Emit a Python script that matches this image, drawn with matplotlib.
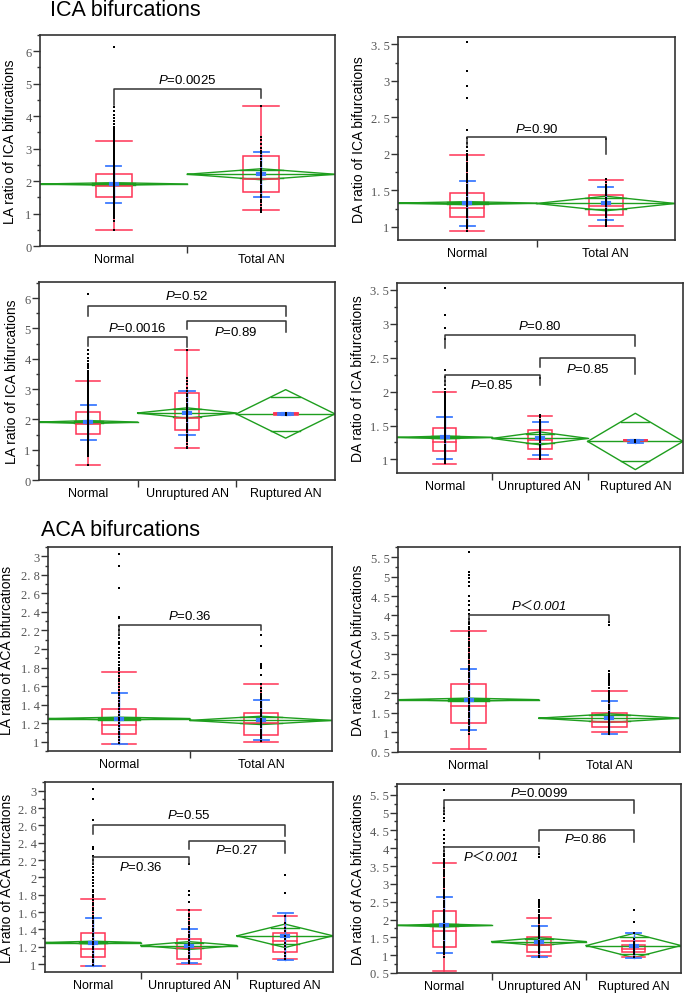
import numpy as np
import matplotlib.pyplot as plt
from matplotlib.patches import Rectangle
from matplotlib.ticker import MultipleLocator, FixedLocator

plt.rcParams['font.family'] = ['Liberation Sans', 'DejaVu Sans']
plt.rcParams['mathtext.fontset'] = 'custom'
plt.rcParams['mathtext.rm'] = 'Liberation Sans'
plt.rcParams['mathtext.it'] = 'Liberation Sans:italic'

W, H = 685, 995

two_groups = ['Normal', 'Total AN']
three_groups = ['Normal', 'Unruptured AN', 'Ruptured AN']

# ---------------- LA ratio, ICA bifurcations ----------------
la_ica_normal = [6.14, 4.28, 4.16, 4.04, 3.93, 3.84, 3.75, 3.68, 3.61, 3.55, 3.50, 3.46,
                 3.41, 3.37, 3.32, 3.27, 3.22, 3.17, 3.12, 3.07, 3.01, 2.96, 2.91, 2.86,
                 2.80, 2.75, 2.70, 2.65, 2.60, 2.55, 2.50, 2.45, 2.41, 2.36, 2.31, 2.27,
                 2.22, 2.18, 2.13, 2.09, 2.04, 2.00, 1.96, 1.92, 1.88, 1.84, 1.80, 1.76,
                 1.72, 1.68, 1.63, 1.59, 1.55, 1.50, 1.46, 1.41, 1.37, 1.32, 1.28, 1.23,
                 1.19, 1.14, 1.10, 1.05, 1.01, 0.96, 0.91, 0.85, 0.78, 0.50]
la_ica_unrup = [4.30, 3.36, 3.27, 3.15, 3.02, 2.93, 2.85, 2.76, 2.68, 2.60, 2.52, 2.45,
                2.38, 2.31, 2.25, 2.19, 2.12, 2.06, 2.00, 1.93, 1.86, 1.79, 1.72, 1.65,
                1.58, 1.50, 1.42, 1.35, 1.27, 1.18, 1.10, 1.05]
la_ica_rup = [2.16, 2.20]
# box: whisker low, Q1, median, Q3, whisker high
la_ica_box_normal = [0.50, 1.52, 1.84, 2.23, 3.25]
la_ica_box_total = [1.10, 1.66, 2.06, 2.76, 4.30]
la_ica_box_unrup = [1.07, 1.64, 2.05, 2.88, 4.30]
la_ica_box_rup = [2.16, 2.17, 2.18, 2.20, 2.20]
# mean and mean +- SD
la_ica_mean = {'normal': 1.91, 'total': 2.21, 'unrup': 2.21, 'rup': 2.18}
la_ica_sd_normal = [1.31, 2.47]
la_ica_sd_total = [1.50, 2.91]
la_ica_sd_unrup = [1.48, 2.94]
la_ica_sd_rup = [2.15, 2.21]

# ---------------- DA ratio, ICA bifurcations ----------------
da_ica_normal = [3.53, 3.13, 2.93, 2.77, 2.32, 2.22, 2.15, 2.09, 2.04, 2.00, 1.97, 1.94,
                 1.91, 1.88, 1.85, 1.82, 1.79, 1.76, 1.73, 1.70, 1.67, 1.64, 1.61, 1.58,
                 1.55, 1.52, 1.49, 1.46, 1.43, 1.40, 1.37, 1.34, 1.31, 1.28, 1.25, 1.22,
                 1.19, 1.16, 1.13, 1.10, 1.07, 1.04, 1.01, 0.98, 0.95]
da_ica_unrup = [2.20, 1.65, 1.62, 1.58, 1.55, 1.52, 1.49, 1.46, 1.43, 1.40, 1.37, 1.34,
                1.31, 1.28, 1.25, 1.22, 1.19, 1.16, 1.13, 1.10, 1.07, 1.04, 1.01]
da_ica_rup = [1.25, 1.29]
da_ica_box_normal = [0.94, 1.13, 1.26, 1.47, 1.99]
da_ica_box_total = [1.01, 1.16, 1.28, 1.44, 1.64]
da_ica_box_unrup = [1.01, 1.15, 1.28, 1.43, 1.64]
da_ica_box_rup = [1.27, 1.275, 1.28, 1.29, 1.29]
da_ica_mean = {'normal': 1.325, 'total': 1.32, 'unrup': 1.31, 'rup': 1.265}
da_ica_sd_normal = [1.01, 1.63]
da_ica_sd_total = [1.09, 1.55]
da_ica_sd_unrup = [1.07, 1.55]
da_ica_sd_rup = [1.245, 1.28]

# ---------------- LA ratio, ACA bifurcations ----------------
la_aca_normal = [3.02, 2.90, 2.66, 2.35, 2.33, 2.25, 2.20, 2.15, 2.12, 2.08, 2.05, 2.01,
                 1.97, 1.94, 1.90, 1.86, 1.83, 1.80, 1.77, 1.74, 1.71, 1.68, 1.65, 1.62,
                 1.59, 1.56, 1.53, 1.50, 1.47, 1.44, 1.41, 1.38, 1.35, 1.32, 1.29, 1.26,
                 1.23, 1.20, 1.17, 1.14, 1.11, 1.08, 1.05, 1.02, 0.99]
la_aca_unrup = [2.15, 1.84, 1.80, 1.72, 1.62, 1.58, 1.55, 1.52, 1.49, 1.46, 1.43, 1.40,
                1.37, 1.34, 1.31, 1.28, 1.25, 1.22, 1.19, 1.16, 1.13, 1.10, 1.07, 1.04, 1.01]
la_aca_rup = [2.03, 1.82, 1.55, 1.48, 1.42, 1.38, 1.33, 1.29, 1.25, 1.21, 1.17, 1.13,
              1.09, 1.06]
la_aca_box_normal = [0.98, 1.083, 1.18, 1.355, 1.757]
la_aca_box_total = [1.00, 1.076, 1.20, 1.306, 1.627]
la_aca_box_unrup = [1.00, 1.06, 1.185, 1.29, 1.62]
la_aca_box_rup = [1.06, 1.146, 1.27, 1.36, 1.55]
la_aca_mean = {'normal': 1.25, 'total': 1.23, 'unrup': 1.215, 'rup': 1.327}
la_aca_sd_normal = [0.98, 1.53]
la_aca_sd_total = [1.02, 1.447]
la_aca_sd_unrup = [1.015, 1.41]
la_aca_sd_rup = [1.054, 1.59]

# ---------------- DA ratio, ACA bifurcations ----------------
da_aca_normal = [5.62, 5.13, 5.04, 4.96, 4.85, 4.75, 4.51, 4.38, 4.27, 4.15, 4.04, 3.92,
                 3.84, 3.77, 3.71, 3.65, 3.58, 3.52, 3.46, 3.40, 3.33, 3.27, 3.21, 3.15,
                 3.09, 3.02, 2.96, 2.90, 2.84, 2.78, 2.71, 2.65, 2.59, 2.53, 2.47, 2.41,
                 2.35, 2.28, 2.22, 2.16, 2.10, 2.04, 1.98, 1.92, 1.86, 1.80, 1.74, 1.68,
                 1.62, 1.56, 1.50, 1.44, 1.38, 1.32, 1.26, 1.20, 1.14, 1.08, 1.02, 0.96]
da_aca_unrup = [3.83, 3.75, 2.56, 2.50, 2.45, 2.40, 2.34, 2.27, 2.20, 2.13, 2.07, 2.01,
                1.95, 1.89, 1.83, 1.77, 1.71, 1.65, 1.59, 1.53, 1.47, 1.41, 1.35, 1.29,
                1.23, 1.17, 1.11, 1.05, 0.99, 0.95]
da_aca_rup = [2.28, 1.93, 1.62, 1.45, 1.38, 1.32, 1.26, 1.20, 1.14, 1.08, 1.02, 0.96]
da_aca_box_normal = [0.57, 1.24, 1.67, 2.23, 3.59]
da_aca_box_total = [1.00, 1.12, 1.26, 1.50, 2.05]
da_aca_box_unrup = [0.99, 1.10, 1.29, 1.50, 2.05]
da_aca_box_rup = [0.94, 1.08, 1.17, 1.28, 1.41]
da_aca_mean = {'normal': 1.835, 'total': 1.36, 'unrup': 1.38, 'rup': 1.27}
da_aca_sd_normal = [1.05, 2.62]
da_aca_sd_total = [0.94, 1.81]
da_aca_sd_unrup = [0.94, 1.83]
da_aca_sd_rup = [0.92, 1.63]

# means diamond half heights (95% CI) per panel
ci_p1 = [0.04, 0.17]
ci_p2 = [0.02, 0.10]
ci_p3 = [0.05, 0.17, 0.80]
ci_p4 = [0.02, 0.095, 0.415]
ci_p5 = [0.015, 0.045]
ci_p6 = [0.04, 0.11]
ci_p7 = [0.015, 0.045, 0.135]
ci_p8 = [0.04, 0.11, 0.34]

# comparison brackets: group a, group b, bar y, leg a end, leg b end, p value, text y
br_p1 = [(0, 1, 4.84, 4.35, 4.56, '=0.0025', 5.13)]
br_p2 = [(0, 1, 2.23, 2.12, 2.00, '=0.90', 2.35)]
br_p3 = [(0, 2, 5.75, 5.42, 5.42, '=0.52', 6.08),
         (0, 1, 4.73, 4.41, 4.38, '=0.0016', 5.04),
         (1, 2, 5.24, 4.98, 4.87, '=0.89', 4.90)]
br_p4 = [(0, 2, 2.83, 2.64, 2.67, '=0.80', 2.98),
         (1, 2, 2.49, 2.36, 2.26, '=0.85', 2.34),
         (0, 1, 2.24, 2.09, 2.09, '=0.85', 2.10)]
br_p5 = [(0, 1, 2.26, 2.15, 2.20, '=0.36', 2.36)]
br_p6 = [(0, 1, 4.02, 3.85, 3.86, '<0.001', 4.25)]
br_p7 = [(0, 2, 2.61, 2.50, 2.48, '=0.55', 2.72),
         (1, 2, 2.42, 2.33, 2.28, '=0.27', 2.32),
         (0, 1, 2.23, 2.16, 2.16, '=0.36', 2.13)]
br_p8 = [(0, 2, 5.36, 5.00, 5.00, '=0.0099', 5.56),
         (1, 2, 4.52, 4.20, 4.16, '=0.86', 4.28),
         (0, 1, 4.02, 3.90, 3.88, '<0.001', 3.77)]

RED = '#ff3355'
GREEN = '#1e9e1e'
BLUE = '#3d7bff'
DARK = '#333333'


def tick_text(v):
    s = f'{abs(v) + 0.0 if abs(v) < 1e-9 else v:.1f}'.rstrip('0').rstrip('.')
    return s.replace('.', '. ')


def make_ax(fig, l, t, r, b):
    return fig.add_axes([l / W, 1 - b / H, (r - l) / W, (b - t) / H])


def draw_panel(ax, names, means, cis, boxes, sds, points, brackets,
               ylim, major, minor, ylabel, label_px):
    n = len(names)
    pos = ax.get_position()
    grp_px = pos.width * W / n
    cap = 7.5 / grp_px
    bw = 0.122
    for i in range(n):
        x0, xc, x1 = i, i + 0.5, i + 1
        m, c = means[i], cis[i]
        # means diamond
        ax.plot([x0, xc, x1, xc, x0], [m, m + c, m, m - c, m], color=GREEN, lw=1.0)
        ax.plot([x0, x1], [m, m], color=GREEN, lw=1.0)
        h = c / np.sqrt(2)
        d = 0.5 * (1 - 1 / np.sqrt(2))
        for y in (m + h, m - h):
            ax.plot([xc - d, xc + d], [y, y], color=GREEN, lw=1.0)
        # quantile box
        wlo, q1, med, q3, whi = boxes[i]
        ax.add_patch(Rectangle((xc - bw, q1), 2 * bw, q3 - q1, fill=False,
                               ec=RED, lw=1.1))
        ax.plot([xc - bw, xc + bw], [med, med], color=RED, lw=1.1)
        ax.plot([xc, xc], [wlo, whi], color=RED, lw=1.1)
        for y in (wlo, whi):
            ax.plot([xc - bw, xc + bw], [y, y], color=RED, lw=1.1)
        # mean +- sd
        slo, shi = sds[i]
        ax.plot([xc, xc], [slo, shi], color=BLUE, lw=1.0)
        for y in (slo, shi):
            ax.plot([xc - cap, xc + cap], [y, y], color=BLUE, lw=1.3)
        ax.plot([xc - cap * 0.4, xc + cap * 0.4], [m, m], color=BLUE, lw=3)
        # raw points
        ax.plot([xc] * len(points[i]), points[i], 's', ms=1.8, mew=0, color='black')

    for a, b, ybar, la, lb, ptxt, ty in brackets:
        xa, xb = a + 0.5, b + 0.5
        ax.plot([xa, xa, xb, xb], [la, ybar, ybar, lb], color=DARK, lw=1.1)
        if ptxt.startswith('<'):
            ax.text((xa + xb) / 2, ty, 'P\uff1c' + ptxt[1:], ha='center', va='center',
                    fontsize=9.5, fontstyle='italic',
                    family=['Liberation Sans', 'Noto Sans CJK SC'])
        else:
            ax.text((xa + xb) / 2, ty, r'$\mathit{P}$' + ptxt, ha='center',
                    va='center', fontsize=9.5)

    ax.set_xlim(0, n)
    ax.set_ylim(*ylim)
    ax.set_xticks([i + 0.5 for i in range(n)])
    ax.set_xticklabels(names, fontsize=9)
    ax.xaxis.set_minor_locator(FixedLocator(list(range(1, n))))
    ax.tick_params(axis='x', which='major', length=0, pad=5)
    ax.tick_params(axis='x', which='minor', length=5, width=1, color=DARK)

    ticks = np.arange(np.ceil(ylim[0] / major - 1e-6) * major, ylim[1] + 1e-9, major)
    ax.set_yticks(ticks)
    ax.set_yticklabels([tick_text(v) for v in ticks], family='Liberation Serif',
                       fontsize=9, color='#555555')
    ax.yaxis.set_minor_locator(MultipleLocator(minor))
    ax.tick_params(axis='y', which='major', length=5, width=1, color=DARK, pad=1)
    ax.tick_params(axis='y', which='minor', length=2.5, width=1, color=DARK)

    for sp in ax.spines.values():
        sp.set_color(DARK)
        sp.set_linewidth(1.2)
    ax.set_ylabel(ylabel, fontsize=10)
    ax.yaxis.set_label_coords((label_px - pos.x0 * W) / (pos.width * W), 0.5)


fig = plt.figure(figsize=(W / 100, H / 100), dpi=100)

fig.text(50 / W, 1 - 11 / H, 'ICA bifurcations', fontsize=15.5, ha='left', va='center')
fig.text(41 / W, 1 - 531 / H, 'ACA bifurcations', fontsize=15.5, ha='left', va='center')

ax1 = make_ax(fig, 40, 36, 335, 247)
draw_panel(ax1, two_groups, [la_ica_mean['normal'], la_ica_mean['total']], ci_p1,
           [la_ica_box_normal, la_ica_box_total], [la_ica_sd_normal, la_ica_sd_total],
           [la_ica_normal, la_ica_unrup + la_ica_rup], br_p1,
           (0, 6.5), 1, 0.5, 'LA ratio of ICA bifurcations', 17)

ax2 = make_ax(fig, 398, 38, 675, 241)
draw_panel(ax2, two_groups, [da_ica_mean['normal'], da_ica_mean['total']], ci_p2,
           [da_ica_box_normal, da_ica_box_total], [da_ica_sd_normal, da_ica_sd_total],
           [da_ica_normal, da_ica_unrup + da_ica_rup], br_p2,
           (0.82, 3.6), 0.5, 0.25, 'DA ratio of ICA bifurcations', 366)

ax3 = make_ax(fig, 39, 283, 335, 481)
draw_panel(ax3, three_groups,
           [la_ica_mean['normal'], la_ica_mean['unrup'], la_ica_mean['rup']], ci_p3,
           [la_ica_box_normal, la_ica_box_unrup, la_ica_box_rup],
           [la_ica_sd_normal, la_ica_sd_unrup, la_ica_sd_rup],
           [la_ica_normal, la_ica_unrup, la_ica_rup], br_p3,
           (0, 6.53), 1, 0.5, 'LA ratio of ICA bifurcations', 19)

ax4 = make_ax(fig, 397, 284, 683, 474)
draw_panel(ax4, three_groups,
           [da_ica_mean['normal'], da_ica_mean['unrup'], da_ica_mean['rup']], ci_p4,
           [da_ica_box_normal, da_ica_box_unrup, da_ica_box_rup],
           [da_ica_sd_normal, da_ica_sd_unrup, da_ica_sd_rup],
           [da_ica_normal, da_ica_unrup, da_ica_rup], br_p4,
           (0.80, 3.6), 0.5, 0.25, 'DA ratio of ICA bifurcations', 365)

ax5 = make_ax(fig, 48, 548, 332, 752)
draw_panel(ax5, two_groups, [la_aca_mean['normal'], la_aca_mean['total']], ci_p5,
           [la_aca_box_normal, la_aca_box_total], [la_aca_sd_normal, la_aca_sd_total],
           [la_aca_normal, la_aca_unrup + la_aca_rup], br_p5,
           (0.9, 3.1), 0.2, 0.1, 'LA ratio of ACA bifurcations', 14)

ax6 = make_ax(fig, 398, 548, 680, 753)
draw_panel(ax6, two_groups, [da_aca_mean['normal'], da_aca_mean['total']], ci_p6,
           [da_aca_box_normal, da_aca_box_total], [da_aca_sd_normal, da_aca_sd_total],
           [da_aca_normal, da_aca_unrup + da_aca_rup], br_p6,
           (0.49, 5.76), 0.5, 0.25, 'DA ratio of ACA bifurcations', 365)

ax7 = make_ax(fig, 45, 783, 333, 973)
draw_panel(ax7, three_groups,
           [la_aca_mean['normal'], la_aca_mean['unrup'], la_aca_mean['rup']], ci_p7,
           [la_aca_box_normal, la_aca_box_unrup, la_aca_box_rup],
           [la_aca_sd_normal, la_aca_sd_unrup, la_aca_sd_rup],
           [la_aca_normal, la_aca_unrup, la_aca_rup], br_p7,
           (0.91, 3.1), 0.2, 0.1, 'LA ratio of ACA bifurcations', 14)

ax8 = make_ax(fig, 397, 785, 681, 974)
draw_panel(ax8, three_groups,
           [da_aca_mean['normal'], da_aca_mean['unrup'], da_aca_mean['rup']], ci_p8,
           [da_aca_box_normal, da_aca_box_unrup, da_aca_box_rup],
           [da_aca_sd_normal, da_aca_sd_unrup, da_aca_sd_rup],
           [da_aca_normal, da_aca_unrup, da_aca_rup], br_p8,
           (0.5, 5.8), 0.5, 0.25, 'DA ratio of ACA bifurcations', 365)

fig.savefig('out.png', dpi=100)
